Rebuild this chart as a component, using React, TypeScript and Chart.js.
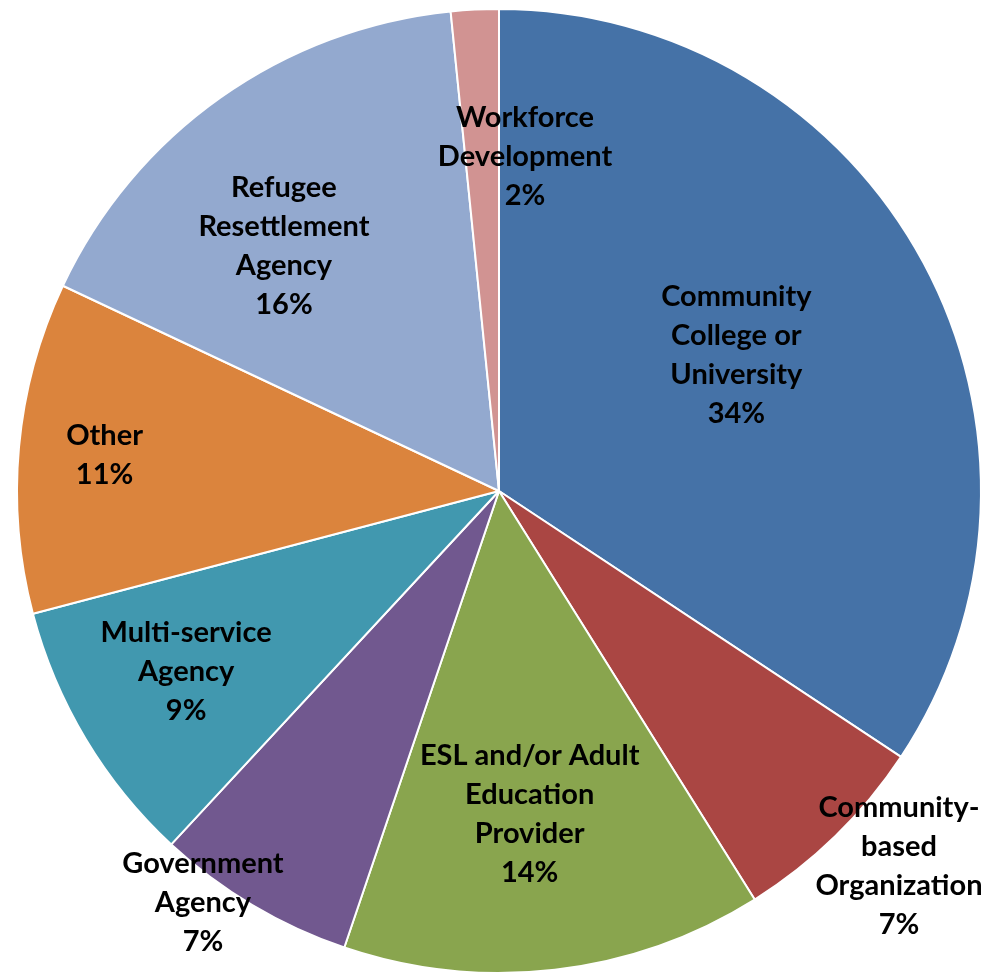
import React, { useEffect, useRef } from "react";
import { Chart, registerables } from "chart.js";

Chart.register(...registerables);

const categories: string[][] = [
  ["Community", "College or", "University"],
  ["Community-", "based", "Organization"],
  ["ESL and/or Adult", "Education", "Provider"],
  ["Government", "Agency"],
  ["Multi-service", "Agency"],
  ["Other"],
  ["Refugee", "Resettlement", "Agency"],
  ["Workforce", "Development"],
];

const values: number[] = [34.3, 6.8, 14.1, 6.7, 9.0, 11.1, 16.4, 1.6];

const colors: string[] = [
  "#4572A7",
  "#AA4643",
  "#89A54E",
  "#71588F",
  "#4198AF",
  "#DB843D",
  "#93A9CF",
  "#D19392",
];

// label placement: radial fraction of outer radius, and angular nudge (degrees)
const labelRadius: number[] = [0.569, 1.135, 0.669, 1.048, 0.747, 0.822, 0.679, 0.7];
const labelNudge: number[] = [-1.8, -2.7, 1.2, 5.1, 1.3, 0.2, -5.8, 7.3];

const FONT = "bold 29px Lato, 'Open Sans', sans-serif";
const LINE_H = 39;

const labelPlugin = {
  id: "sliceLabels",
  afterDatasetsDraw(chart: any) {
    const ctx = chart.ctx as CanvasRenderingContext2D;
    const meta = chart.getDatasetMeta(0);
    const total = values.reduce((a, b) => a + b, 0);
    ctx.save();
    ctx.font = FONT;
    ctx.fillStyle = "#000";
    ctx.textAlign = "center";
    ctx.textBaseline = "middle";
    meta.data.forEach((arc: any, i: number) => {
      const { x, y, startAngle, endAngle, outerRadius } = arc.getProps(
        ["x", "y", "startAngle", "endAngle", "outerRadius"],
        true
      );
      const a = (startAngle + endAngle) / 2 + (labelNudge[i] * Math.PI) / 180;
      const r = outerRadius * labelRadius[i];
      const px = x + Math.cos(a) * r;
      const py = y + Math.sin(a) * r + 2;
      const lines = [...categories[i], Math.round((values[i] / total) * 100) + "%"];
      const startY = py - ((lines.length - 1) * LINE_H) / 2;
      lines.forEach((ln, k) => ctx.fillText(ln, px, startY + k * LINE_H));
    });
    ctx.restore();
  },
};

export default function App() {
  const ref = useRef<HTMLCanvasElement | null>(null);
  useEffect(() => {
    if (!ref.current) return;
    const chart = new Chart(ref.current, {
      type: "pie",
      data: {
        labels: categories.map((c) => c.join(" ")),
        datasets: [
          {
            data: values,
            backgroundColor: colors,
            borderColor: "#ffffff",
            borderWidth: 2,
          },
        ],
      },
      options: {
        responsive: false,
        animation: false,
        layout: { padding: { left: 16, right: 4, top: 8, bottom: 0 } },
        plugins: {
          legend: { display: false },
          tooltip: { enabled: false },
        },
      },
      plugins: [labelPlugin],
    });
    return () => chart.destroy();
  }, []);
  return (
    <div style={{ position: "fixed", left: 0, top: 0, width: 986, height: 974, background: "#fff" }}>
      <canvas ref={ref} width={986} height={974} />
    </div>
  );
}
